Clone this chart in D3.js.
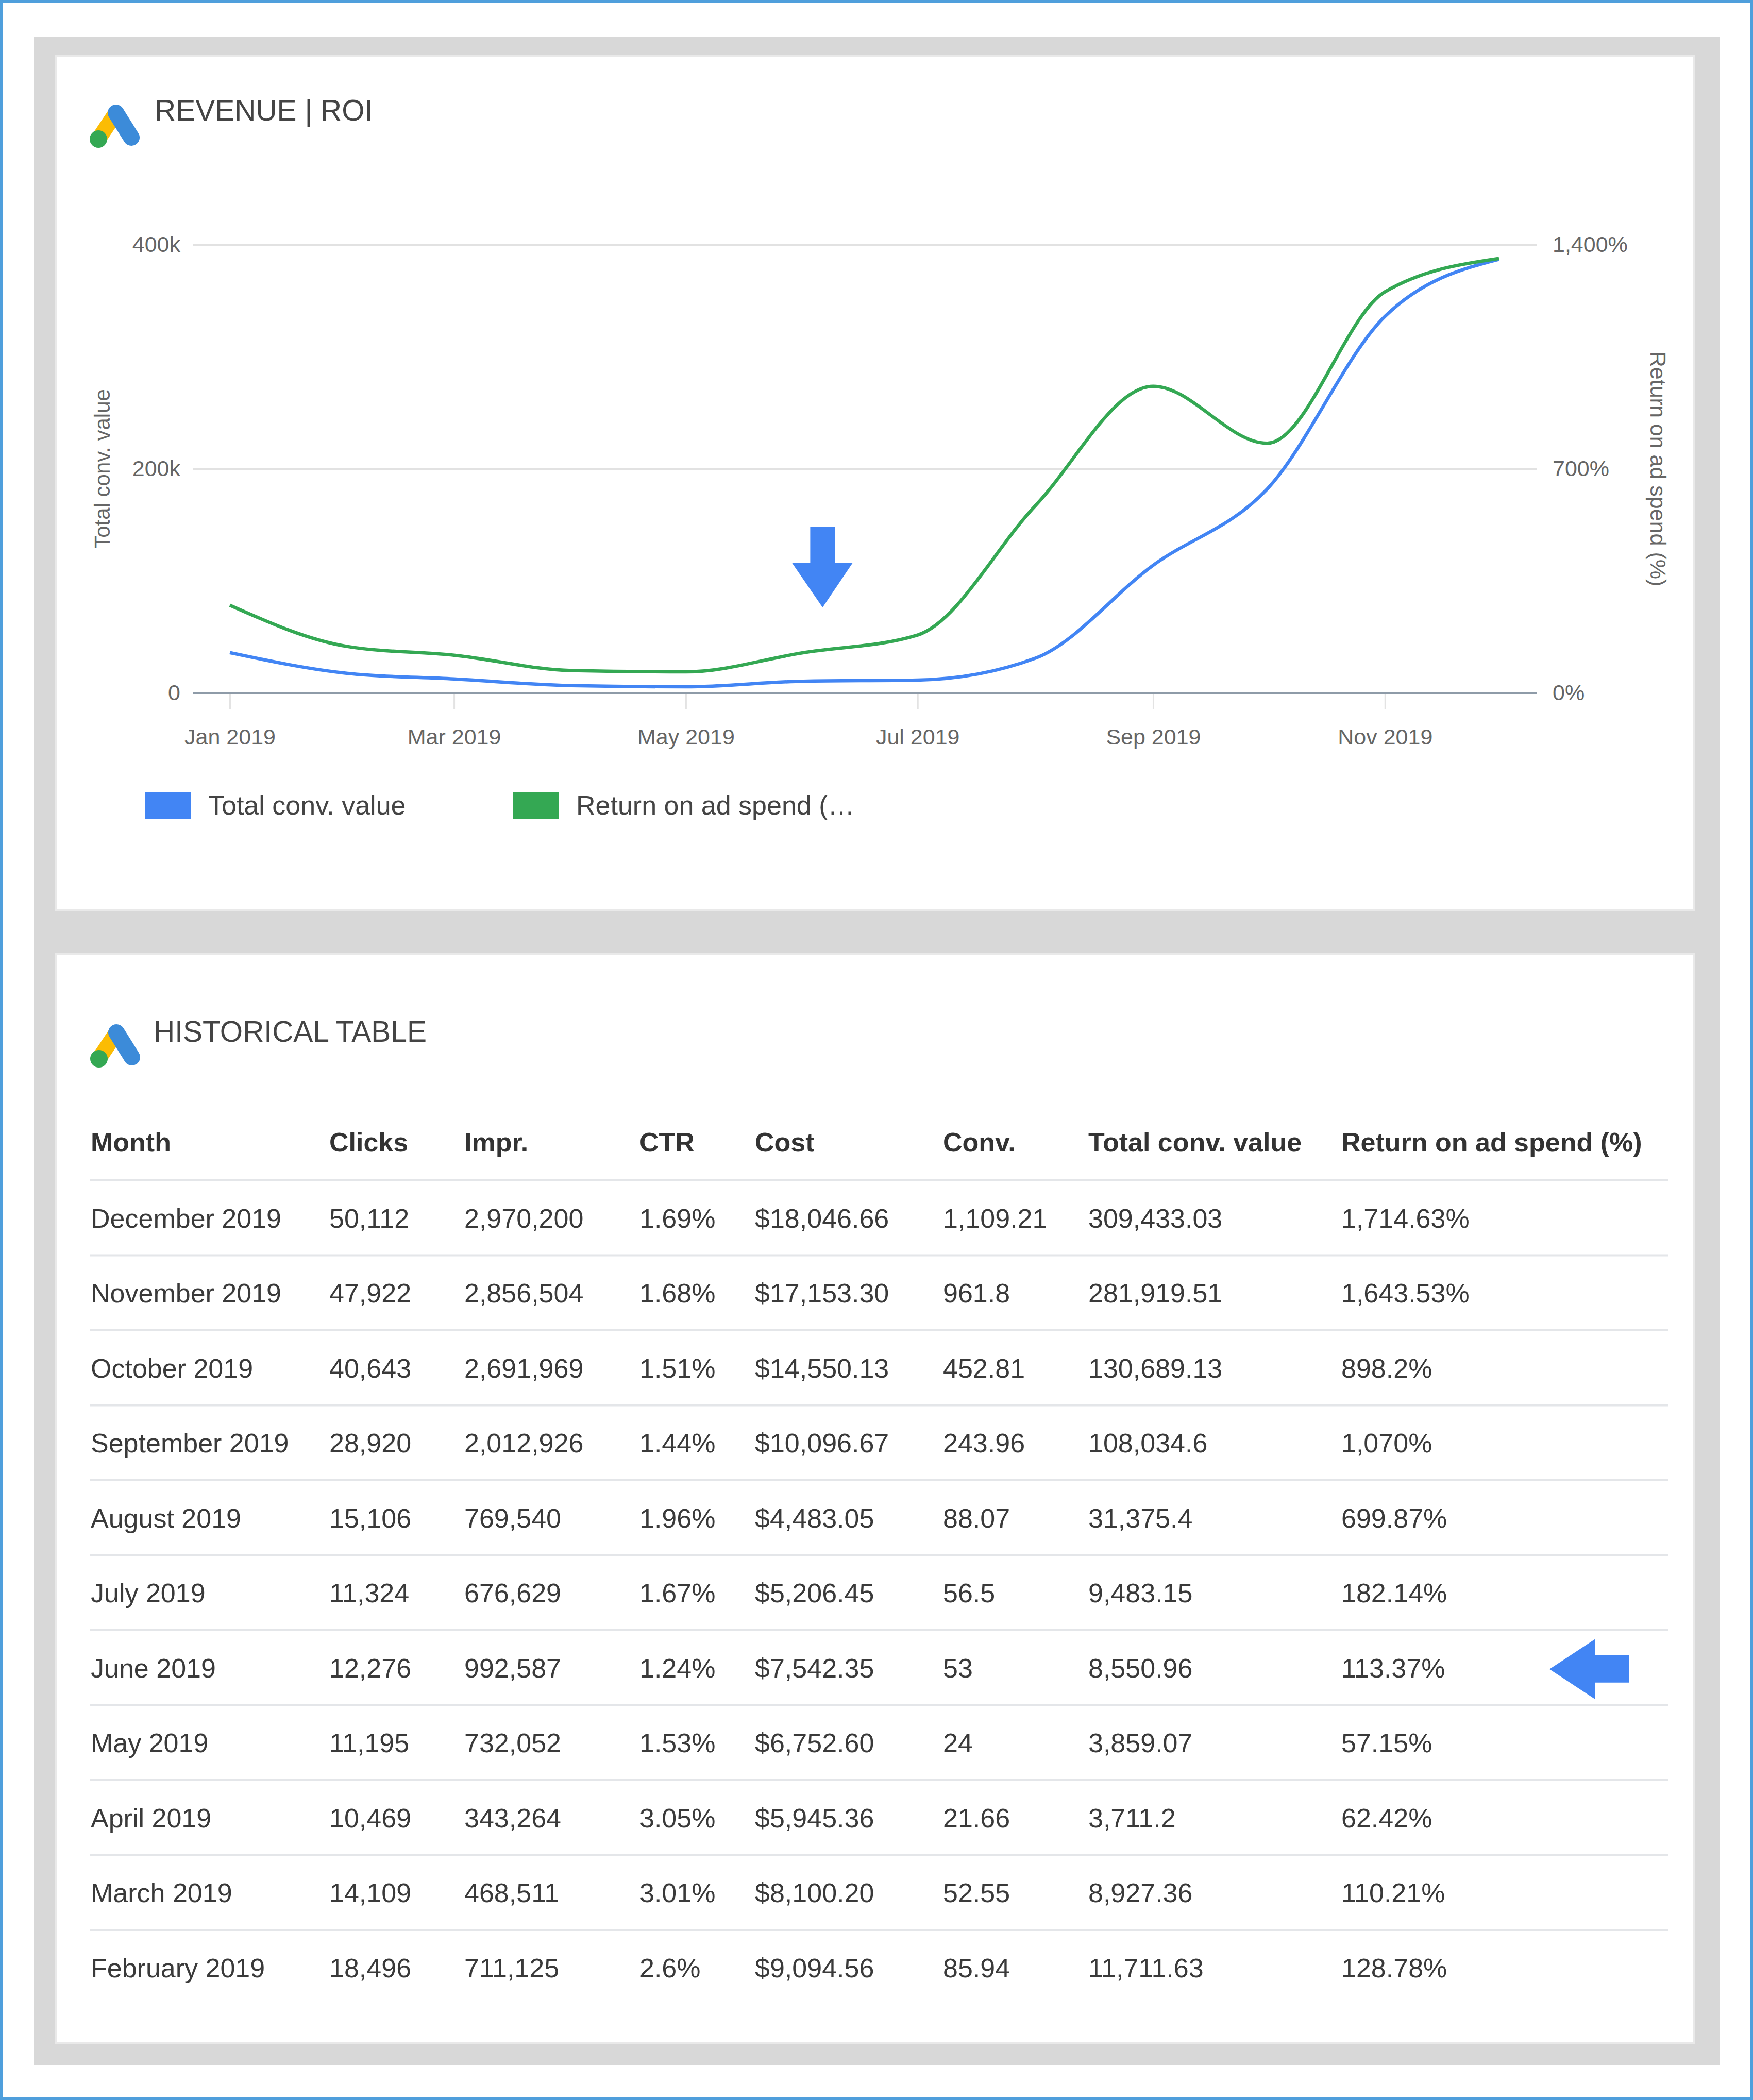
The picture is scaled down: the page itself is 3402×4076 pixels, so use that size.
<!DOCTYPE html>
<html>
<head>
<meta charset="utf-8">
<script src="https://cdn.jsdelivr.net/npm/d3@7"></script>
<style>
  body { margin: 0; background: #fff; }
  svg { display: block; font-family: 'Liberation Sans', Arial, sans-serif; }
</style>
</head>
<body>
<div id="page"></div>
<script>
// chart data (1st of each month, 2019)
var months = ['2019-01-01', '2019-02-01', '2019-03-01', '2019-04-01', '2019-05-01', '2019-06-01',
  '2019-07-01', '2019-08-01', '2019-09-01', '2019-10-01', '2019-11-01', '2019-12-01'];
var totalConvValue = [36000, 17500, 12500, 6500, 5500, 10500, 11500, 31000, 114000, 182000, 336000, 387000];
var returnOnAdSpend = [274, 145, 118, 70, 66, 126, 181, 585, 958, 780, 1253, 1357];
var leftTicks = [0, 200000, 400000];
var rightTicks = [0, 700, 1400];
var seriesNames = ['Total conv. value', 'Return on ad spend (\u2026'];

// historical table
var tableHeaders = ['Month', 'Clicks', 'Impr.', 'CTR', 'Cost', 'Conv.', 'Total conv. value', 'Return on ad spend (%)'];
var tableMonths = ['December 2019', 'November 2019', 'October 2019', 'September 2019', 'August 2019', 'July 2019',
  'June 2019', 'May 2019', 'April 2019', 'March 2019', 'February 2019'];
var clicks = [50112, 47922, 40643, 28920, 15106, 11324, 12276, 11195, 10469, 14109, 18496];
var impressions = [2970200, 2856504, 2691969, 2012926, 769540, 676629, 992587, 732052, 343264, 468511, 711125];
var ctr = [1.69, 1.68, 1.51, 1.44, 1.96, 1.67, 1.24, 1.53, 3.05, 3.01, 2.6];
var cost = [18046.66, 17153.30, 14550.13, 10096.67, 4483.05, 5206.45, 7542.35, 6752.60, 5945.36, 8100.20, 9094.56];
var conversions = [1109.21, 961.8, 452.81, 243.96, 88.07, 56.5, 53, 24, 21.66, 52.55, 85.94];
var convValue = [309433.03, 281919.51, 130689.13, 108034.6, 31375.4, 9483.15, 8550.96, 3859.07, 3711.2, 8927.36, 11711.63];
var roasTable = [1714.63, 1643.53, 898.2, 1070, 699.87, 182.14, 113.37, 57.15, 62.42, 110.21, 128.78];

var W = 3402, H = 4076;
var BLUE = '#4285f4', GREEN = '#34a853';

var svg = d3.select('#page').append('svg')
  .attr('width', W)
  .attr('height', H);

// frame: blue outline, grey panel, two white cards
svg.append('rect')
  .attr('x', 2.5).attr('y', 2.5)
  .attr('width', W - 5).attr('height', H - 5)
  .style('fill', '#fff')
  .style('stroke', '#4f9fdc')
  .style('stroke-width', 5);

svg.append('rect')
  .attr('x', 66).attr('y', 72)
  .attr('width', 3338 - 66).attr('height', 4008 - 72)
  .style('fill', '#d8d8d8');

[[108, 1766], [1852, 3965]].forEach(function(c) {
  svg.append('rect')
    .attr('x', 108).attr('y', c[0])
    .attr('width', 3288 - 108).attr('height', c[1] - c[0])
    .style('fill', '#fff')
    .style('stroke', '#e9e9e9')
    .style('stroke-width', 4);
});

function drawLogo(x, y) {
  var g = svg.append('g').attr('transform', 'translate(' + x + ',' + y + ')');
  g.append('line')
    .attr('x1', 52).attr('y1', 22).attr('x2', 18).attr('y2', 73)
    .style('stroke', '#fbbc04').style('stroke-width', 30).style('stroke-linecap', 'round');
  g.append('line')
    .attr('x1', 52).attr('y1', 22).attr('x2', 82).attr('y2', 70)
    .style('stroke', '#3c8bd9').style('stroke-width', 32).style('stroke-linecap', 'round');
  g.append('circle')
    .attr('cx', 18).attr('cy', 73).attr('r', 17)
    .style('fill', '#34a853');
}

function drawTitle(text, x, y) {
  svg.append('text')
    .attr('x', x).attr('y', y)
    .style('font-size', '57px')
    .style('fill', '#444')
    .text(text);
}

drawLogo(173, 197);
drawTitle('REVENUE | ROI', 300, 234);
drawLogo(174, 1982);
drawTitle('HISTORICAL TABLE', 298, 2022);

// ---- line chart ----
var parse = d3.timeParse('%Y-%m-%d');
var points = months.map(function(m, i) {
  return {date: parse(m), value: totalConvValue[i], roas: returnOnAdSpend[i]};
});

var x = d3.scaleTime()
  .domain(d3.extent(points, function(d) { return d.date; }))
  .range([446, 2909]);
var yLeft = d3.scaleLinear().domain([0, 400000]).range([1345, 475]);
var yRight = d3.scaleLinear().domain([0, 1400]).range([1345, 475]);

var plotLeft = 375, plotRight = 2982;
var chart = svg.append('g');

// gridlines
chart.append('g')
  .attr('transform', 'translate(' + plotLeft + ',0)')
  .call(d3.axisRight(yLeft).tickValues(leftTicks.slice(1)).tickSize(plotRight - plotLeft).tickFormat(''))
  .call(function(g) {
    g.select('.domain').remove();
    g.selectAll('line').style('stroke', '#e2e2e2').style('stroke-width', 4);
  });

// x axis
chart.append('g')
  .attr('transform', 'translate(0,' + yLeft(0) + ')')
  .call(d3.axisBottom(x).ticks(d3.timeMonth.every(2)).tickFormat(d3.timeFormat('%b %Y')).tickSize(32))
  .call(function(g) {
    g.select('.domain').remove();
    g.selectAll('line').style('stroke', '#e3e3e3').style('stroke-width', 3).attr('y1', 2);
    g.selectAll('text')
      .attr('y', 100).attr('dy', 0)
      .style('font-size', '43px')
      .style('fill', '#666');
  });

chart.append('line')
  .attr('x1', plotLeft).attr('x2', plotRight)
  .attr('y1', yLeft(0)).attr('y2', yLeft(0))
  .style('stroke', '#8e9ba8')
  .style('stroke-width', 4);

// left axis
chart.append('g')
  .attr('transform', 'translate(' + plotLeft + ',0)')
  .call(d3.axisLeft(yLeft).tickValues(leftTicks).tickSize(0).tickPadding(25)
    .tickFormat(function(d) { return d === 0 ? '0' : d3.format('~s')(d); }))
  .call(function(g) {
    g.select('.domain').remove();
    g.selectAll('text').style('font-size', '43px').style('fill', '#666');
  });

// right axis
chart.append('g')
  .attr('transform', 'translate(' + plotRight + ',0)')
  .call(d3.axisRight(yRight).tickValues(rightTicks).tickSize(0).tickPadding(31)
    .tickFormat(function(d) { return d3.format(',')(d) + '%'; }))
  .call(function(g) {
    g.select('.domain').remove();
    g.selectAll('text').style('font-size', '43px').style('fill', '#666');
  });

chart.append('text')
  .attr('transform', 'translate(213,' + yLeft(200000) + ')rotate(-90)')
  .style('text-anchor', 'middle')
  .style('font-size', '42px')
  .style('fill', '#666')
  .text('Total conv. value');

chart.append('text')
  .attr('transform', 'translate(3203,' + yRight(700) + ')rotate(90)')
  .style('text-anchor', 'middle')
  .style('font-size', '43px')
  .style('fill', '#666')
  .text('Return on ad spend (%)');

var valueLine = d3.line()
  .curve(d3.curveMonotoneX)
  .x(function(d) { return x(d.date); })
  .y(function(d) { return yLeft(d.value); });

var roasLine = d3.line()
  .curve(d3.curveMonotoneX)
  .x(function(d) { return x(d.date); })
  .y(function(d) { return yRight(d.roas); });

chart.append('path')
  .datum(points)
  .attr('d', valueLine)
  .style('fill', 'none')
  .style('stroke', BLUE)
  .style('stroke-width', 6.5);

chart.append('path')
  .datum(points)
  .attr('d', roasLine)
  .style('fill', 'none')
  .style('stroke', GREEN)
  .style('stroke-width', 6.5);

// annotation arrow above June
var ax = x(parse('2019-06-06'));
chart.append('path')
  .attr('d', 'M' + (ax - 24) + ',1023 h48 v70 h34 L' + ax + ',1179 L' + (ax - 59) + ',1093 h35 Z')
  .style('fill', BLUE);

// legend
var legend = svg.append('g').attr('transform', 'translate(281,1538)');
var legendItems = legend.selectAll('g').data(seriesNames).enter().append('g')
  .attr('transform', function(d, i) { return 'translate(' + i * 714 + ',0)'; });
legendItems.append('rect')
  .attr('width', 90).attr('height', 52)
  .style('fill', function(d, i) { return [BLUE, GREEN][i]; });
legendItems.append('text')
  .attr('x', 123 - (0)).attr('y', 43)
  .style('font-size', '52px')
  .style('fill', '#444')
  .text(function(d) { return d; });

// ---- historical table ----
var colX = [176, 639, 901, 1241, 1465, 1830, 2112, 2603];
var fmt = d3.format(',');
var rows = tableMonths.map(function(m, i) {
  return [m, fmt(clicks[i]), fmt(impressions[i]), ctr[i] + '%', '$' + d3.format(',.2f')(cost[i]),
    fmt(conversions[i]), fmt(convValue[i]), fmt(roasTable[i]) + '%'];
});

var rowY = d3.scaleBand()
  .domain(tableMonths)
  .range([2291, 2291 + 145.5 * tableMonths.length]);

var table = svg.append('g');

table.selectAll('.head').data(tableHeaders).enter().append('text')
  .attr('class', 'head')
  .attr('x', function(d, i) { return colX[i]; })
  .attr('y', 2235)
  .style('font-size', '52px')
  .style('font-weight', 'bold')
  .style('fill', '#333')
  .text(function(d) { return d; });

table.selectAll('.rule').data(tableMonths.slice(0, -1).map(function(m) { return rowY(m); })
    .concat([rowY(tableMonths[0])]))
  .enter().append('line')
  .attr('class', 'rule')
  .attr('x1', 174).attr('x2', 3238)
  .attr('y1', function(d, i) { return i === tableMonths.length - 1 ? d : d + rowY.bandwidth(); })
  .attr('y2', function(d, i) { return i === tableMonths.length - 1 ? d : d + rowY.bandwidth(); })
  .style('stroke', '#e4e6e9')
  .style('stroke-width', 4);

var rowG = table.selectAll('.row').data(rows).enter().append('g')
  .attr('class', 'row')
  .attr('transform', function(d) { return 'translate(0,' + (rowY(d[0]) + rowY.bandwidth() / 2) + ')'; });

rowG.selectAll('text').data(function(d) { return d; }).enter().append('text')
  .attr('x', function(d, i) { return colX[i]; })
  .attr('y', 19)
  .style('font-size', '52px')
  .style('fill', '#3a3a3a')
  .text(function(d) { return d; });

// arrow pointing at the June row
var jy = rowY('June 2019') + rowY.bandwidth() / 2 + 3;
table.append('path')
  .attr('d', 'M3007,' + jy + ' L3095,' + (jy - 58) + ' v31 h67 v53 h-67 v32 Z')
  .style('fill', BLUE);
</script>
</body>
</html>
